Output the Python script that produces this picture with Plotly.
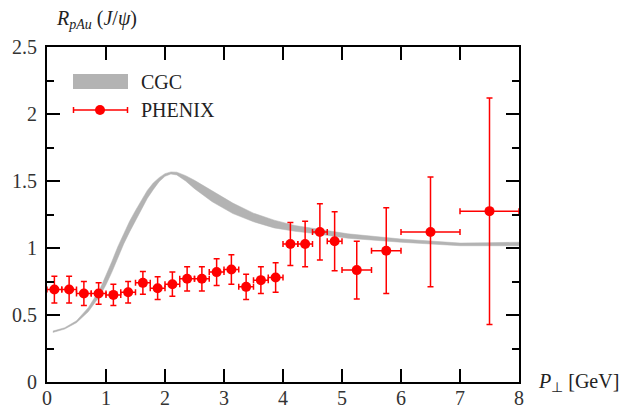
import plotly.graph_objects as go

# ---- data ----
pt = [0.125, 0.375, 0.625, 0.875, 1.125, 1.375, 1.625, 1.875, 2.125, 2.375, 2.625, 2.875,
      3.125, 3.375, 3.625, 3.875, 4.125, 4.375, 4.625, 4.875, 5.25, 5.75, 6.5, 7.5]
r_pau = [0.69, 0.69, 0.66, 0.66, 0.65, 0.67, 0.74, 0.70, 0.73, 0.77, 0.77, 0.82,
         0.84, 0.71, 0.76, 0.78, 1.03, 1.03, 1.12, 1.05, 0.835, 0.98, 1.12, 1.275]
err_y = [0.10, 0.10, 0.09, 0.08, 0.08, 0.08, 0.085, 0.085, 0.09, 0.09, 0.09, 0.10,
         0.11, 0.095, 0.10, 0.11, 0.16, 0.17, 0.21, 0.22, 0.215, 0.32, 0.41, 0.845]
err_x = [0.125] * 20 + [0.25, 0.25, 0.5, 0.5]

cgc_x = [0.1, 0.3, 0.5, 0.7, 0.9, 1.0, 1.1, 1.2, 1.3, 1.4, 1.5, 1.6, 1.7, 1.8, 1.9, 2.0,
         2.1, 2.2, 2.35, 2.5, 2.8, 3.15, 3.5, 3.85, 4.2, 4.5, 5.1, 6.0, 7.0, 7.5, 8.0]
cgc_upper = [0.38, 0.405, 0.457, 0.555, 0.695, 0.795, 0.90, 1.01, 1.11, 1.20, 1.28, 1.355,
             1.43, 1.485, 1.525, 1.555, 1.568, 1.566, 1.54, 1.505, 1.425, 1.335, 1.26,
             1.208, 1.168, 1.147, 1.106, 1.067, 1.037, 1.04, 1.043]
cgc_lower = [0.37, 0.395, 0.443, 0.525, 0.645, 0.725, 0.82, 0.93, 1.03, 1.12, 1.20, 1.285,
             1.37, 1.435, 1.495, 1.535, 1.552, 1.545, 1.50, 1.443, 1.345, 1.257, 1.196,
             1.15, 1.125, 1.11, 1.073, 1.043, 1.017, 1.017, 1.017]

x_ticks = [0, 1, 2, 3, 4, 5, 6, 7, 8]
y_ticks = [0, 0.5, 1, 1.5, 2, 2.5]

FONT = "Liberation Serif"
FS = 20
GRAY = "#b3b3b3"
RED = "#ff0000"

fig = go.Figure()

fig.add_trace(go.Scatter(x=cgc_x, y=cgc_lower, mode="lines",
                         line=dict(color=GRAY, width=0.5), showlegend=False, hoverinfo="skip"))
fig.add_trace(go.Scatter(x=cgc_x, y=cgc_upper, mode="lines", fill="tonexty",
                         fillcolor=GRAY, line=dict(color=GRAY, width=0.5),
                         name="CGC", showlegend=False))

fig.add_trace(go.Scatter(
    x=pt, y=r_pau, mode="markers", name="PHENIX", showlegend=False,
    marker=dict(color=RED, size=10, line=dict(width=0)),
    error_y=dict(type="data", array=err_y, color=RED, thickness=1.5, width=3),
    error_x=dict(type="data", array=err_x, color=RED, thickness=1.5, width=3),
))

L, R, T, B = 47, 115, 47, 26
W, H = 634, 408
pw, ph = W - L - R, H - T - B


def xp(px):
    return (px - L) / pw


def yp(py):
    return (H - B - py) / ph


shapes = [
    dict(type="rect", xref="paper", yref="paper", x0=xp(73), x1=xp(128), y0=yp(89), y1=yp(74),
         fillcolor=GRAY, line=dict(width=0)),
    dict(type="line", xref="paper", yref="paper", x0=xp(73), x1=xp(128), y0=yp(110), y1=yp(110),
         line=dict(color=RED, width=1.5)),
    dict(type="line", xref="paper", yref="paper", x0=xp(73.5), x1=xp(73.5), y0=yp(107), y1=yp(113),
         line=dict(color=RED, width=1.5)),
    dict(type="line", xref="paper", yref="paper", x0=xp(127.5), x1=xp(127.5), y0=yp(107), y1=yp(113),
         line=dict(color=RED, width=1.5)),
    dict(type="circle", xref="paper", yref="paper", xsizemode="pixel", ysizemode="pixel",
         xanchor=xp(100), yanchor=yp(110), x0=-5, x1=5, y0=-5, y1=5,
         fillcolor=RED, line=dict(width=0)),
]

annotations = [
    dict(xref="paper", yref="paper", x=xp(139), y=yp(82), text="CGC", showarrow=False,
         xanchor="left", yanchor="middle", font=dict(family=FONT, size=FS, color="#222")),
    dict(xref="paper", yref="paper", x=xp(139), y=yp(110), text="PHENIX", showarrow=False,
         xanchor="left", yanchor="middle", font=dict(family=FONT, size=FS, color="#222")),
    dict(xref="paper", yref="paper", x=xp(96), y=yp(20),
         text="<i>R</i><sub><i>pAu</i></sub> (<i>J</i>/<i>ψ</i>)", showarrow=False,
         xanchor="center", yanchor="middle", font=dict(family=FONT, size=FS, color="#222")),
    dict(xref="paper", yref="paper", x=xp(578), y=yp(382),
         text="<i>P</i><sub>⊥</sub> [GeV]", showarrow=False,
         xanchor="center", yanchor="middle", font=dict(family=FONT, size=FS, color="#222")),
]

axis_common = dict(showline=True, linecolor="black", linewidth=2, mirror="ticks",
                   ticks="inside", tickcolor="black", tickwidth=1.5, showgrid=False,
                   zeroline=False, automargin=False,
                   tickfont=dict(family=FONT, size=FS, color="#333"))

fig.update_layout(
    width=W, height=H,
    margin=dict(l=L, r=R, t=T, b=B, pad=0),
    paper_bgcolor="white", plot_bgcolor="white",
    shapes=shapes, annotations=annotations, showlegend=False,
    xaxis=dict(range=[0, 8], tickvals=x_ticks, ticklen=13, ticklabelstandoff=-3, **axis_common),
    yaxis=dict(range=[0, 2.5], tickvals=y_ticks, ticklen=13, ticklabelstandoff=4,
               minor=dict(ticks="inside", ticklen=7, dtick=0.25, tickcolor="black", tickwidth=1.5),
               **axis_common),
)

fig.write_html("out.html")
